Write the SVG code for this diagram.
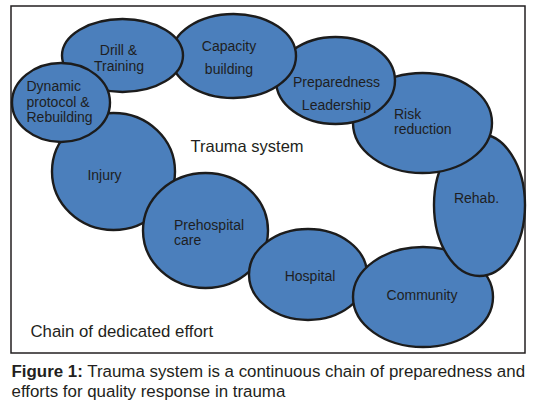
<svg xmlns="http://www.w3.org/2000/svg" width="538" height="416" viewBox="0 0 538 416">
<style>
.n{fill:#4b7fbc;stroke:#1c1c1c;stroke-width:2.4}
.t{font-family:"Liberation Sans",Arial,sans-serif;font-size:14px;fill:#1e1e22}
.c{text-anchor:middle}
.cap{font-family:"Liberation Sans",Arial,sans-serif;font-size:16.9px;fill:#231f20}
</style>
<rect x="0" y="0" width="538" height="416" fill="#ffffff"/>
<rect x="11" y="6" width="514" height="347" fill="#ffffff" stroke="#231f20" stroke-width="1.5"/>
<g id="connectors"></g>
<g id="injury"><ellipse class="n" cx="113.5" cy="171.5" rx="61.5" ry="58.5"/><text class="t c" x="104.5" y="180">Injury</text></g>
<g id="prehospital"><ellipse class="n" cx="205.5" cy="230.5" rx="62.5" ry="57.5"/><text class="t" x="174" y="229.5">Prehospital</text><text class="t" x="174" y="245">care</text></g>
<g id="hospital"><ellipse class="n" cx="308" cy="274.5" rx="59" ry="45.5"/><text class="t c" x="310" y="281">Hospital</text></g>
<g id="community"><ellipse class="n" cx="423" cy="297" rx="70" ry="50"/><text class="t c" x="422" y="300">Community</text></g>
<g id="rehab"><ellipse class="n" cx="479.5" cy="205" rx="45.5" ry="71"/><text class="t c" x="476.5" y="202.5">Rehab.</text></g>
<g id="risk"><ellipse class="n" cx="422.5" cy="123" rx="69.5" ry="50"/><text class="t" x="394" y="118.5">Risk</text><text class="t" x="394" y="133.5">reduction</text></g>
<g id="preparedness"><ellipse class="n" cx="335.5" cy="80.5" rx="59.5" ry="43.5"/><text class="t c" x="336.5" y="86.5">Preparedness</text><text class="t c" x="336.5" y="109.5">Leadership</text></g>
<g id="capacity"><ellipse class="n" cx="233.5" cy="56" rx="62.5" ry="42"/><text class="t c" x="229" y="50.5">Capacity</text><text class="t c" x="229" y="73.5">building</text></g>
<g id="drill"><ellipse class="n" cx="122.5" cy="55.5" rx="60.5" ry="36.5"/><text class="t c" x="118.5" y="54.5">Drill &amp;</text><text class="t c" x="119" y="70.5">Training</text></g>
<g id="dynamic"><ellipse class="n" cx="61" cy="102.5" rx="49" ry="39.5"/><text class="t" x="26.5" y="91">Dynamic</text><text class="t" x="26.5" y="106.5">protocol &amp;</text><text class="t" x="26.5" y="122">Rebuilding</text></g>
<text class="cap" x="190.5" y="151.5" style="font-size:16.5px">Trauma system</text>
<text class="cap" x="30.5" y="336.5" style="font-size:16.8px">Chain of dedicated effort</text>
<text class="cap" x="11.5" y="376.5"><tspan font-weight="bold">Figure 1:</tspan> Trauma system is a continuous chain of preparedness and</text>
<text class="cap" x="11.5" y="396.5">efforts for quality response in trauma</text>
</svg>
